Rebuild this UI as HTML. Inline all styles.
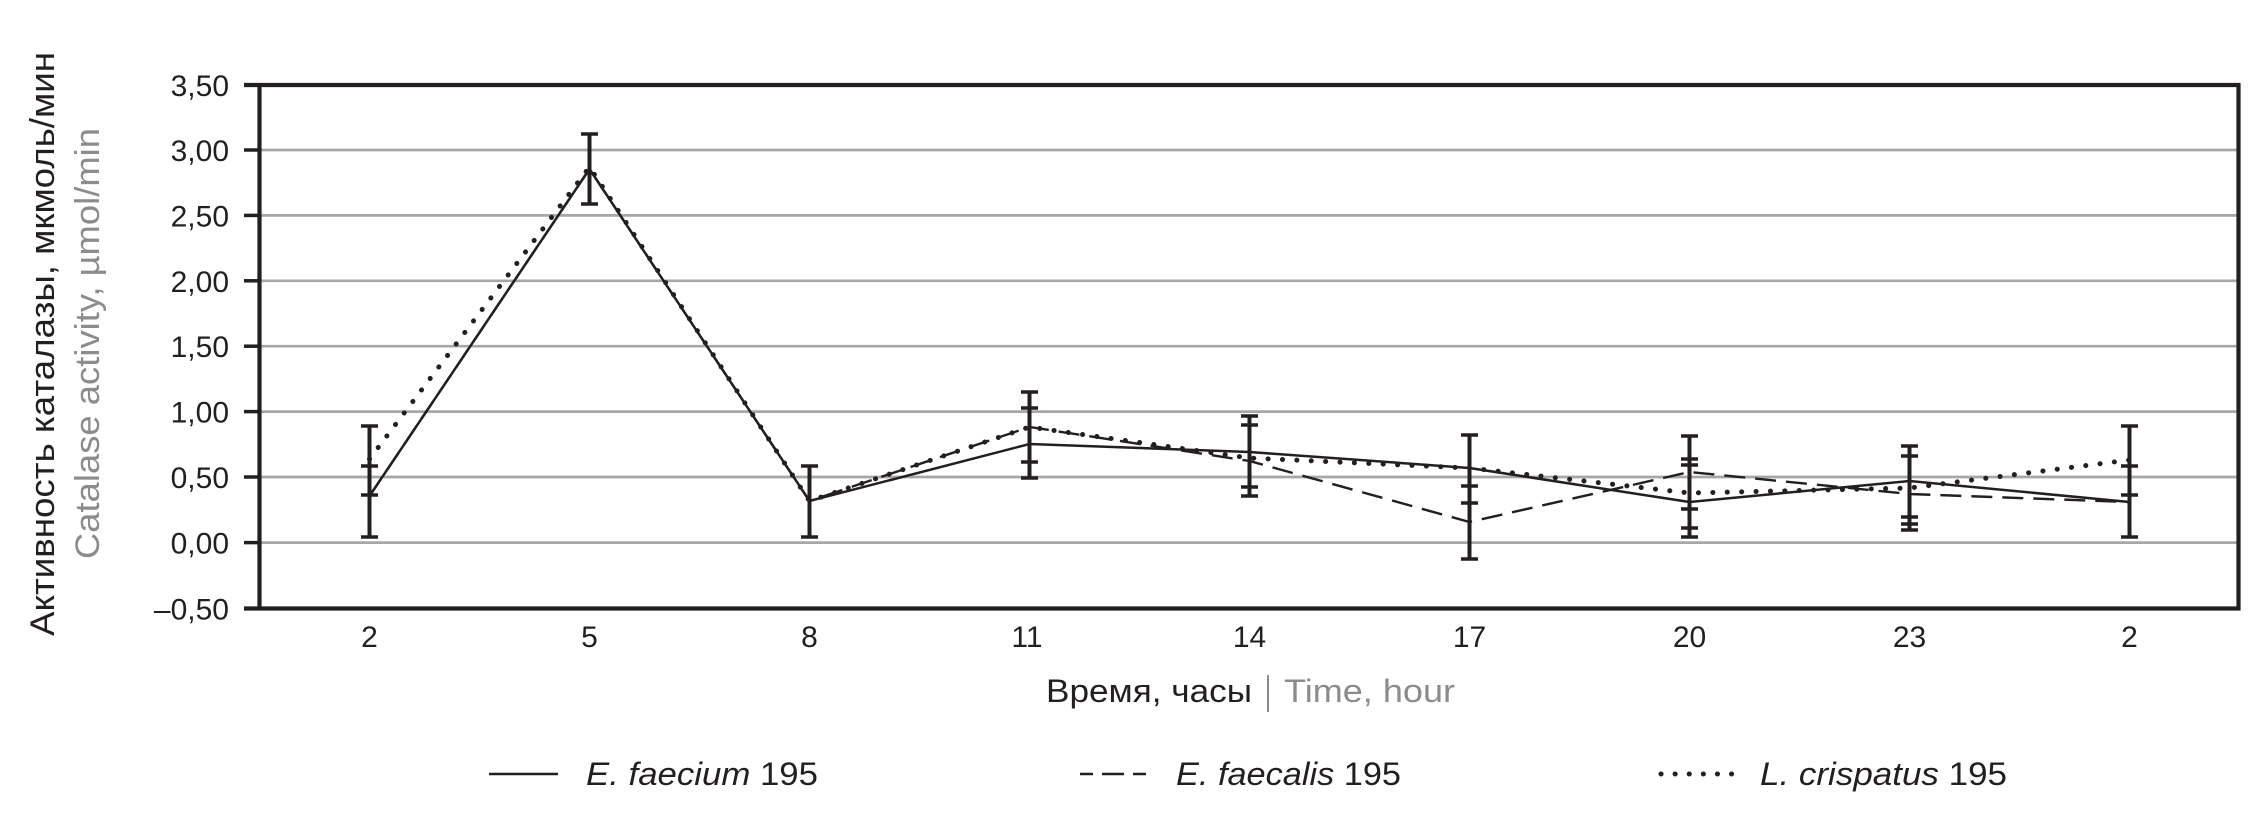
<!DOCTYPE html>
<html>
<head>
<meta charset="utf-8">
<style>
  html, body { margin: 0; padding: 0; background: #ffffff; }
  svg { display: block; }
  text { font-family: "Liberation Sans", "DejaVu Sans", sans-serif; }
</style>
</head>
<body>
<svg width="2260" height="819" viewBox="0 0 2260 819" xmlns="http://www.w3.org/2000/svg">
  <rect x="0" y="0" width="2260" height="819" fill="#ffffff"/>

  <!-- gridlines -->
  <g stroke="#a7a7a9" stroke-width="2.7">
    <line x1="259" y1="150.0" x2="2237" y2="150.0"/>
    <line x1="259" y1="215.4" x2="2237" y2="215.4"/>
    <line x1="259" y1="280.8" x2="2237" y2="280.8"/>
    <line x1="259" y1="346.2" x2="2237" y2="346.2"/>
    <line x1="259" y1="411.6" x2="2237" y2="411.6"/>
    <line x1="259" y1="477.0" x2="2237" y2="477.0"/>
    <line x1="259" y1="542.6" x2="2237" y2="542.6"/>
  </g>

  <!-- left tick marks -->
  <g stroke="#231f20" stroke-width="3.5">
    <line x1="244" y1="150.0" x2="260" y2="150.0"/>
    <line x1="244" y1="215.4" x2="260" y2="215.4"/>
    <line x1="244" y1="280.8" x2="260" y2="280.8"/>
    <line x1="244" y1="346.2" x2="260" y2="346.2"/>
    <line x1="244" y1="411.6" x2="260" y2="411.6"/>
    <line x1="244" y1="477.0" x2="260" y2="477.0"/>
    <line x1="244" y1="542.6" x2="260" y2="542.6"/>
  </g>

  <!-- series: E. faecalis (dashed) -->
  <polyline fill="none" stroke="#231f20" stroke-width="2.4" stroke-dasharray="21 10"
    points="369.5,496 589.5,169 809.5,501 1029.5,427 1249.5,461 1469.5,522 1689.5,472 1909.5,494 2129.5,502"/>
  <!-- series: L. crispatus (dotted) -->
  <polyline fill="none" stroke="#231f20" stroke-width="5" stroke-linecap="round" stroke-dasharray="0.1 14.3"
    points="369.5,459 589.5,167 809.5,501 1029.5,427 1249.5,458 1469.5,468 1689.5,493 1909.5,488 2129.5,460"/>
  <!-- series: E. faecium (solid) -->
  <polyline fill="none" stroke="#231f20" stroke-width="2.5"
    points="369.5,496 589.5,169 809.5,501 1029.5,444 1249.5,452 1469.5,468 1689.5,502 1909.5,481 2129.5,502"/>

  <!-- error bars -->
  <g stroke="#231f20" fill="none">
    <g stroke-width="4">
      <line x1="369.5" y1="426" x2="369.5" y2="537"/>
      <line x1="589.5" y1="134" x2="589.5" y2="204"/>
      <line x1="809.5" y1="466" x2="809.5" y2="537"/>
      <line x1="1029.5" y1="392" x2="1029.5" y2="478"/>
      <line x1="1249.5" y1="416" x2="1249.5" y2="496"/>
      <line x1="1469.5" y1="435" x2="1469.5" y2="559"/>
      <line x1="1689.5" y1="436" x2="1689.5" y2="537"/>
      <line x1="1909.5" y1="446" x2="1909.5" y2="530"/>
      <line x1="2129.5" y1="426" x2="2129.5" y2="537"/>
    </g>
    <g stroke-width="3.6">
      <path d="M361,426h17 M361,466h17 M361,495h17 M361,537h17"/>
      <path d="M581,134h17 M581,204h17"/>
      <path d="M801,466h17 M801,537h17"/>
      <path d="M1021,392h17 M1021,408h17 M1021,462h17 M1021,478h17"/>
      <path d="M1241,416h17 M1241,425h17 M1241,487h17 M1241,496h17"/>
      <path d="M1461,435h17 M1461,486h17 M1461,503h17 M1461,559h17"/>
      <path d="M1681,436h17 M1681,459h17 M1681,465h17 M1681,509h17 M1681,528h17 M1681,537h17"/>
      <path d="M1901,446h17 M1901,456h17 M1901,517h17 M1901,524h17 M1901,530h17"/>
      <path d="M2121,426h17 M2121,466h17 M2121,495h17 M2121,537h17"/>
    </g>
  </g>

  <!-- plot border -->
  <g stroke="#231f20" stroke-width="4.2" fill="none">
    <line x1="244" y1="85" x2="2240.5" y2="85"/>
    <line x1="244" y1="608.5" x2="2240.5" y2="608.5"/>
    <line x1="259.5" y1="83" x2="259.5" y2="610.5"/>
    <line x1="2238.5" y1="83" x2="2238.5" y2="610.5"/>
  </g>

  <!-- y tick labels -->
  <g font-size="30" fill="#231f20" text-anchor="end">
    <text x="229" y="96">3,50</text>
    <text x="229" y="161">3,00</text>
    <text x="229" y="226.5">2,50</text>
    <text x="229" y="292">2,00</text>
    <text x="229" y="357">1,50</text>
    <text x="229" y="422.5">1,00</text>
    <text x="229" y="488">0,50</text>
    <text x="229" y="553.5">0,00</text>
    <text x="229" y="619.5">–0,50</text>
  </g>

  <!-- x tick labels -->
  <g font-size="30" fill="#231f20" text-anchor="middle">
    <text x="369.5" y="647">2</text>
    <text x="589.5" y="647">5</text>
    <text x="809.5" y="647">8</text>
    <text x="1027" y="647">11</text>
    <text x="1249.5" y="647">14</text>
    <text x="1469.5" y="647">17</text>
    <text x="1689.5" y="647">20</text>
    <text x="1909.5" y="647">23</text>
    <text x="2129.5" y="647">2</text>
  </g>

  <!-- x axis title -->
  <text x="1046" y="702" font-size="32" fill="#231f20" textLength="206" lengthAdjust="spacingAndGlyphs">Время, часы</text>
  <line x1="1268" y1="675" x2="1268" y2="712" stroke="#8c8c8e" stroke-width="2"/>
  <text x="1284" y="702" font-size="32" fill="#8c8c8e" textLength="171" lengthAdjust="spacingAndGlyphs">Time, hour</text>

  <!-- y axis titles -->
  <text transform="translate(54,636) rotate(-90)" font-size="34" fill="#231f20" textLength="584" lengthAdjust="spacingAndGlyphs">Активность каталазы, мкмоль/мин</text>
  <text transform="translate(99,559) rotate(-90)" font-size="34" fill="#8c8c8e" textLength="431" lengthAdjust="spacingAndGlyphs">Catalase activity, µmol/min</text>

  <!-- legend -->
  <line x1="489" y1="774" x2="558" y2="774" stroke="#231f20" stroke-width="2.5"/>
  <text x="586" y="785" font-size="32" fill="#231f20" textLength="232" lengthAdjust="spacingAndGlyphs"><tspan font-style="italic">E. faecium</tspan> 195</text>

  <line x1="1080" y1="774" x2="1146" y2="774" stroke="#231f20" stroke-width="2.5" stroke-dasharray="22 9" stroke-dashoffset="9"/>
  <text x="1176" y="785" font-size="32" fill="#231f20" textLength="225" lengthAdjust="spacingAndGlyphs"><tspan font-style="italic">E. faecalis</tspan> 195</text>

  <line x1="1661" y1="774" x2="1732" y2="774" stroke="#231f20" stroke-width="5" stroke-linecap="round" stroke-dasharray="0.1 14"/>
  <text x="1760" y="785" font-size="32" fill="#231f20" textLength="247" lengthAdjust="spacingAndGlyphs"><tspan font-style="italic">L. crispatus</tspan> 195</text>
</svg>
</body>
</html>
